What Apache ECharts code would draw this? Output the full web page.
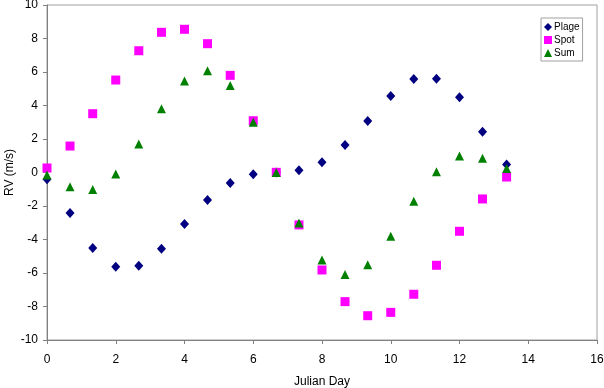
<!DOCTYPE html>
<html>
<head>
<meta charset="utf-8">
<script src="https://cdn.jsdelivr.net/npm/echarts@6/dist/echarts.min.js"></script>
<style>
  html, body { margin: 0; padding: 0; background: #fff; }
  #chart { width: 604px; height: 388px; }
</style>
</head>
<body>
<div id="chart"></div>
<script>
// julian day of each observation
const days = [0, 0.67, 1.33, 2.0, 2.67, 3.33, 4.0, 4.67, 5.33, 6.0, 6.67,
  7.33, 8.0, 8.67, 9.33, 10.0, 10.67, 11.33, 12.0, 12.67, 13.37]

const plage = [-0.4, -2.42, -4.5, -5.62, -5.56, -4.55, -3.07, -1.64, -0.63, -0.1, 0.0,
  0.13, 0.61, 1.64, 3.07, 4.57, 5.58, 5.6, 4.5, 2.44, 0.48]
const spot = [0.27, 1.58, 3.51, 5.52, 7.27, 8.37, 8.55, 7.69, 5.8, 3.09, 0.01,
  -3.13, -5.82, -7.71, -8.55, -8.35, -7.27, -5.54, -3.51, -1.58, -0.27]
const sum = [-0.15, -0.85, -1.02, -0.09, 1.7, 3.8, 5.46, 6.07, 5.19, 3.0, 0.0,
  -3.02, -5.22, -6.09, -5.5, -3.8, -1.71, 0.05, 0.99, 0.85, 0.24]

const pairs = vals => days.map((d, i) => [d, vals[i]])

const font = 'Liberation Sans, Arial, sans-serif'

let chart = echarts.init(document.getElementById('chart'), null, {renderer: 'canvas'})

chart.setOption({
  animation: false,
  textStyle: {fontFamily: font},
  grid: {
    left: 47, right: 7, top: 5, bottom: 48,
    containLabel: false,
    outerBoundsMode: 'none',
    show: true, borderColor: '#a0a0a0', borderWidth: 1, backgroundColor: '#fff'
  },
  legend: {
    orient: 'vertical',
    left: 541, top: 18,
    width: 38,
    padding: [4, 3, 3, 3],
    itemGap: 3,
    itemWidth: 8,
    itemHeight: 8,
    borderColor: '#a0a0a0',
    borderWidth: 1,
    textStyle: {fontSize: 10, color: '#000', padding: [0, 0, 0, -3]},
    data: [
      {name: 'Plage', icon: 'diamond'},
      {name: 'Spot', icon: 'rect'},
      {name: 'Sum', icon: 'triangle'}
    ]
  },
  xAxis: {
    type: 'value',
    min: 0, max: 16, interval: 2,
    name: 'Julian Day',
    nameLocation: 'middle',
    nameGap: 36,
    nameMoveOverlap: false,
    nameTextStyle: {fontSize: 12, color: '#000', fontFamily: font},
    axisLine: {onZero: false, lineStyle: {color: '#808080'}},
    axisTick: {show: true, length: 4, lineStyle: {color: '#808080'}},
    axisLabel: {fontSize: 12, color: '#000', margin: 14, fontFamily: font},
    splitLine: {show: false}
  },
  yAxis: {
    type: 'value',
    min: -10, max: 10, interval: 2,
    name: 'RV (m/s)',
    nameLocation: 'middle',
    nameGap: 31,
    nameMoveOverlap: false,
    nameTextStyle: {fontSize: 12, color: '#000', fontFamily: font},
    axisLine: {show: true, onZero: false, lineStyle: {color: '#808080'}},
    axisTick: {show: true, length: 4, lineStyle: {color: '#808080'}},
    axisLabel: {fontSize: 12, color: '#000', margin: 9, fontFamily: font},
    splitLine: {show: false}
  },
  series: [
    {
      name: 'Plage', type: 'scatter', symbol: 'diamond', symbolSize: [9, 10],
      itemStyle: {color: '#000080', opacity: 1},
      data: pairs(plage)
    },
    {
      name: 'Spot', type: 'scatter', symbol: 'rect', symbolSize: 9,
      itemStyle: {color: '#ff00ff', opacity: 1},
      data: pairs(spot)
    },
    {
      name: 'Sum', type: 'scatter', symbol: 'triangle', symbolSize: [9, 9],
      itemStyle: {color: '#008000', opacity: 1},
      data: pairs(sum)
    }
  ]
})
</script>
</body>
</html>
